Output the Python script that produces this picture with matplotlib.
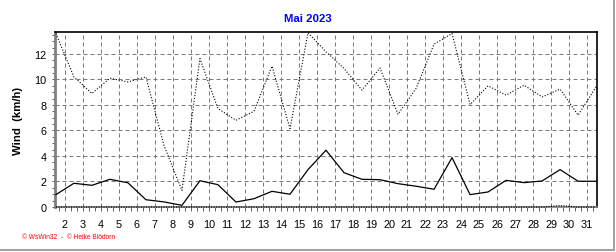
import matplotlib
matplotlib.use("Agg")
import matplotlib.pyplot as plt
from matplotlib.ticker import MultipleLocator
from matplotlib.lines import Line2D

plt.rcParams['font.family'] = ['Liberation Sans', 'DejaVu Sans']

# day centres (1.5 = 1st of May ... 31.5 = 31st)
days = [d + 0.5 for d in range(1, 32)]
wind_avg = [0.97, 1.86, 1.7, 2.17, 1.9, 0.57, 0.4, 0.13, 2.06, 1.75,
            0.39, 0.65, 1.23, 1.0, 2.93, 4.45, 2.69, 2.17, 2.14, 1.83,
            1.63, 1.39, 3.87, 0.97, 1.18, 2.09, 1.91, 2.04, 2.93, 2.02, 2.02]
wind_max = [13.6, 10.2, 8.9, 10.1, 9.8, 10.2, 4.84, 1.3, 11.64, 7.72,
            6.8, 7.5, 11.04, 6.15, 13.66, 12.17, 10.86, 9.16, 10.9, 7.27,
            9.29, 12.77, 13.6, 8.03, 9.5, 8.77, 9.55, 8.63, 9.24, 7.2, 9.42]
wind_min = [0] * 28 + [0.1, 0, 0]
x_labels = list(range(2, 32))
y_labels = list(range(0, 13, 2))

W, H = 616, 253
fig = plt.figure(figsize=(W / 100, H / 100), dpi=100)
fig.patch.set_facecolor('white')
ax = fig.add_axes([55 / W, 1 - 208 / H, (597 - 55) / W, (208 - 33) / H])

ax.set_xlim(1.45, 31.55)
ax.set_ylim(0, 13.72)

# grid
for d in x_labels:
    ax.axvline(d, color='#7a7a7a', lw=0.72, ls=(0, (4, 3)), zorder=1)
for v in y_labels[1:]:
    ax.axhline(v, color='#7a7a7a', lw=0.72, ls=(0, (4, 3)), zorder=1)

ax.plot(days, wind_max, color='black', lw=0.8, ls=(0, (1, 1.6)), zorder=3)
ax.plot(days, wind_avg, color='black', lw=0.9, zorder=3)
ax.plot(days, wind_min, color='black', lw=0.9, ls=(0, (1, 1)), zorder=3,
        clip_on=False)

# axes styling
for side in ['top', 'right']:
    ax.spines[side].set_color('black')
    ax.spines[side].set_linewidth(1.2)
ax.spines['left'].set_color('#808080')
ax.spines['left'].set_linewidth(2)
ax.spines['bottom'].set_color('#808080')
ax.spines['bottom'].set_linewidth(1.2)

ax.set_xticks(x_labels)
ax.set_xticklabels([str(d) for d in x_labels])
ax.xaxis.set_minor_locator(MultipleLocator(1 / 3))
ax.set_yticks(y_labels)
ax.yaxis.set_minor_locator(MultipleLocator(0.5))
ax.tick_params(axis='x', which='both', direction='out', length=3, width=0.7,
               color='#606060', labelsize=7.8, pad=6)
ax.tick_params(axis='y', which='both', direction='out', length=2, width=0.7,
               color='#606060', labelsize=7.8, pad=4)

ax.set_ylabel('Wind  (km/h)', fontsize=8.2, fontweight='bold', labelpad=8)
fig.text(0.5, 1 - 19 / H, 'Mai 2023', color='#0000ff', fontsize=8.2,
         fontweight='bold', ha='center', va='center')
fig.text(22 / W, 1 - 238 / H, '\u00a9 WsWin32  -  \u00a9 Heike Bl\u00f6dorn',
         color='red', fontsize=4.8, ha='left', va='center')

# grey frame on right and bottom
fig.add_artist(Line2D([613.5 / W, 613.5 / W], [1 - 250.5 / H, 1], color='#a0a0a0',
                      lw=1.4, transform=fig.transFigure))
fig.add_artist(Line2D([0, 613.5 / W], [1 - 250.5 / H, 1 - 250.5 / H],
                      color='#a0a0a0', lw=1.4, transform=fig.transFigure))

fig.savefig('out.png', dpi=100, facecolor=fig.get_facecolor())
plt.close(fig)
